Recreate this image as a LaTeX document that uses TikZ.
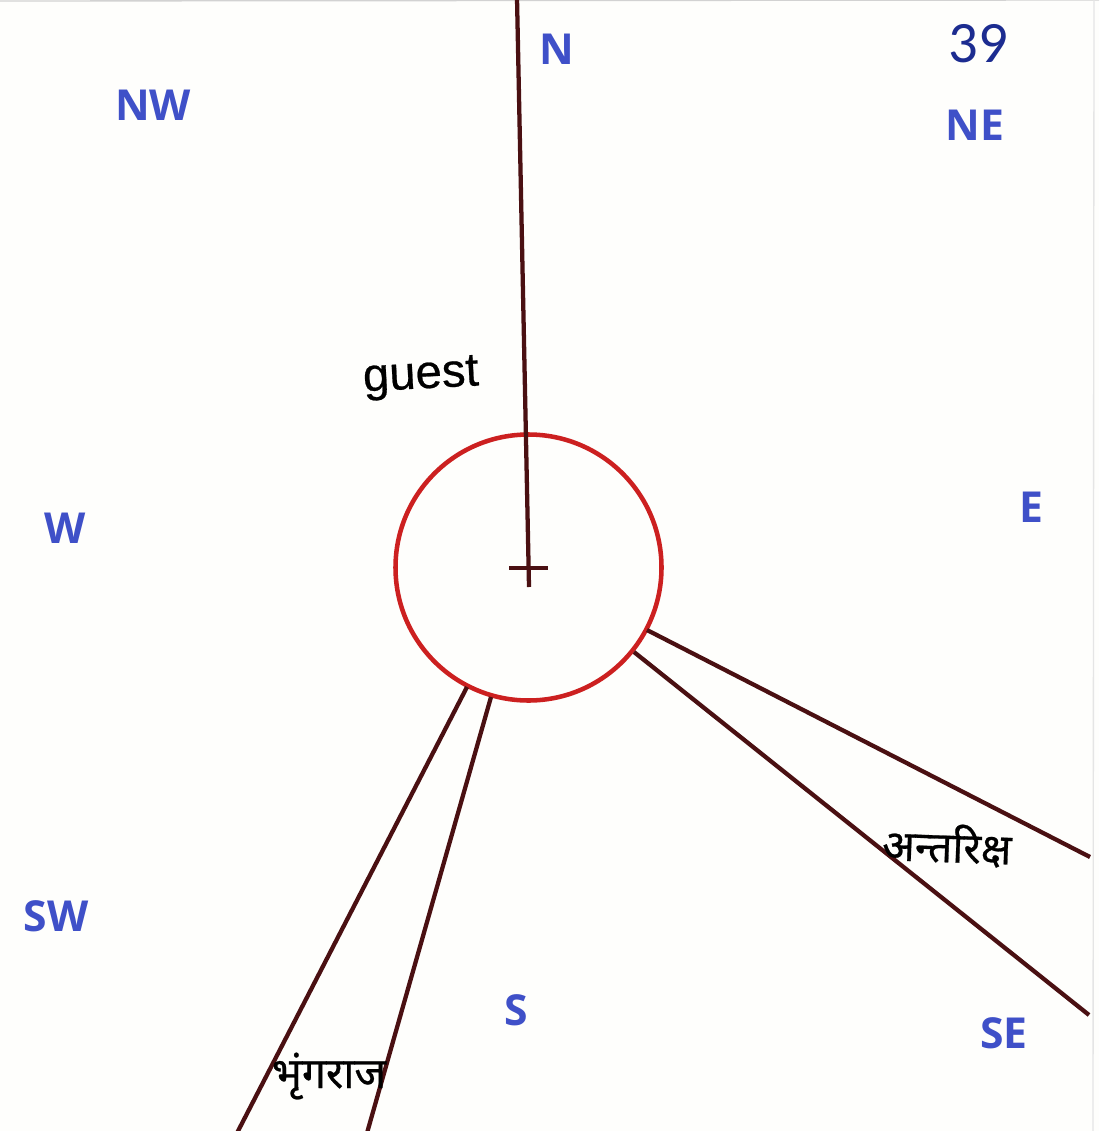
\documentclass[tikz,border=0pt]{standalone}
\usepackage{fontspec}
\setmainfont{Open Sans}
\newfontfamily\hindifont[Script=Devanagari,FakeBold=0.6]{Noto Sans}
\newfontfamily\guestfont[FakeBold=0.5]{Liberation Sans}
\newfontfamily\pagefont{Carlito}
\definecolor{paper}{HTML}{FEFEFC}
\definecolor{compass}{HTML}{3F50C8}
\definecolor{pageblue}{HTML}{1C2C90}
\definecolor{ringred}{HTML}{CC2020}
\definecolor{rule}{HTML}{4A1012}
\usetikzlibrary{positioning,calc}

\begin{document}
\begin{tikzpicture}[x=0.75pt,y=-0.75pt,
  dirn/.style={text=compass,font=\bfseries\fontsize{32}{32}\selectfont,inner sep=0pt},
  hindi/.style={text=black,font=\hindifont\fontsize{32}{32}\selectfont,inner sep=0pt},
  spoke/.style={draw=rule,line width=3.2pt},
  ring/.style={circle,draw=ringred,line width=3.4pt,minimum size=199.5pt,inner sep=0pt}
  ]

  \fill[paper] (0,0) rectangle (1099,1131);
  \useasboundingbox (0,0) rectangle (1099,1131);
  \draw[gray!35,line width=1pt] (0,1) -- (1099,0);
  \draw[gray!20,line width=1pt] (1094,0) -- (1093,1131);

  % rim and centre
  \node[ring] (rim) at (528.5,567.5) {};
  \coordinate (top) at (517,-2);
  \coordinate (foot) at (529,587);
  \coordinate (crossl) at (509,568);
  \coordinate (crossr) at (548,568);

  % ends of the spokes
  \coordinate (bl1) at (467,687);
  \coordinate (bl2) at (237,1133);
  \coordinate (br1) at (491,697);
  \coordinate (br2) at (367,1133);
  \coordinate (rt1) at (647,630);
  \coordinate (rt2) at (1090,857);
  \coordinate (rb1) at (634,652);
  \coordinate (rb2) at (1089,1015);

  \draw[spoke] (top) -- (foot);
  \draw[spoke] (crossl) -- (crossr);
  \draw[spoke] (bl1) -- (bl2);
  \draw[spoke] (br1) -- (br2);
  \draw[spoke] (rt1) -- (rt2);
  \draw[spoke] (rb1) -- (rb2);

  \node[dirn] (north) at (557,49) {N};
  \node[dirn] (northwest) at (153,105) {NW};
  \node[dirn] (northeast) at (975,125) {NE};
  \node[dirn] (west) at (65,528) {W};
  \node[dirn] (east) at (1031,507) {E};
  \node[dirn] (southwest) at (56,916) {SW};
  \node[dirn] (south) at (516,1010) {S};
  \node[dirn] (southeast) at (1004,1033) {SE};

  \node[text=pageblue,font=\pagefont\fontsize{44}{44}\selectfont,inner sep=0pt] (page) at (978,44) {39};
  \node[rotate=3,font=\guestfont\fontsize{35.5}{35.5}\selectfont,inner sep=0pt] (guest) at (421,378) {guest};

  \node[hindi] (bhringraj) at (329,1076) {भृंगराज};
  \node[hindi,rotate=-2] (antariksh) at (947,845) {अन्तरिक्ष};
\end{tikzpicture}
\end{document}
